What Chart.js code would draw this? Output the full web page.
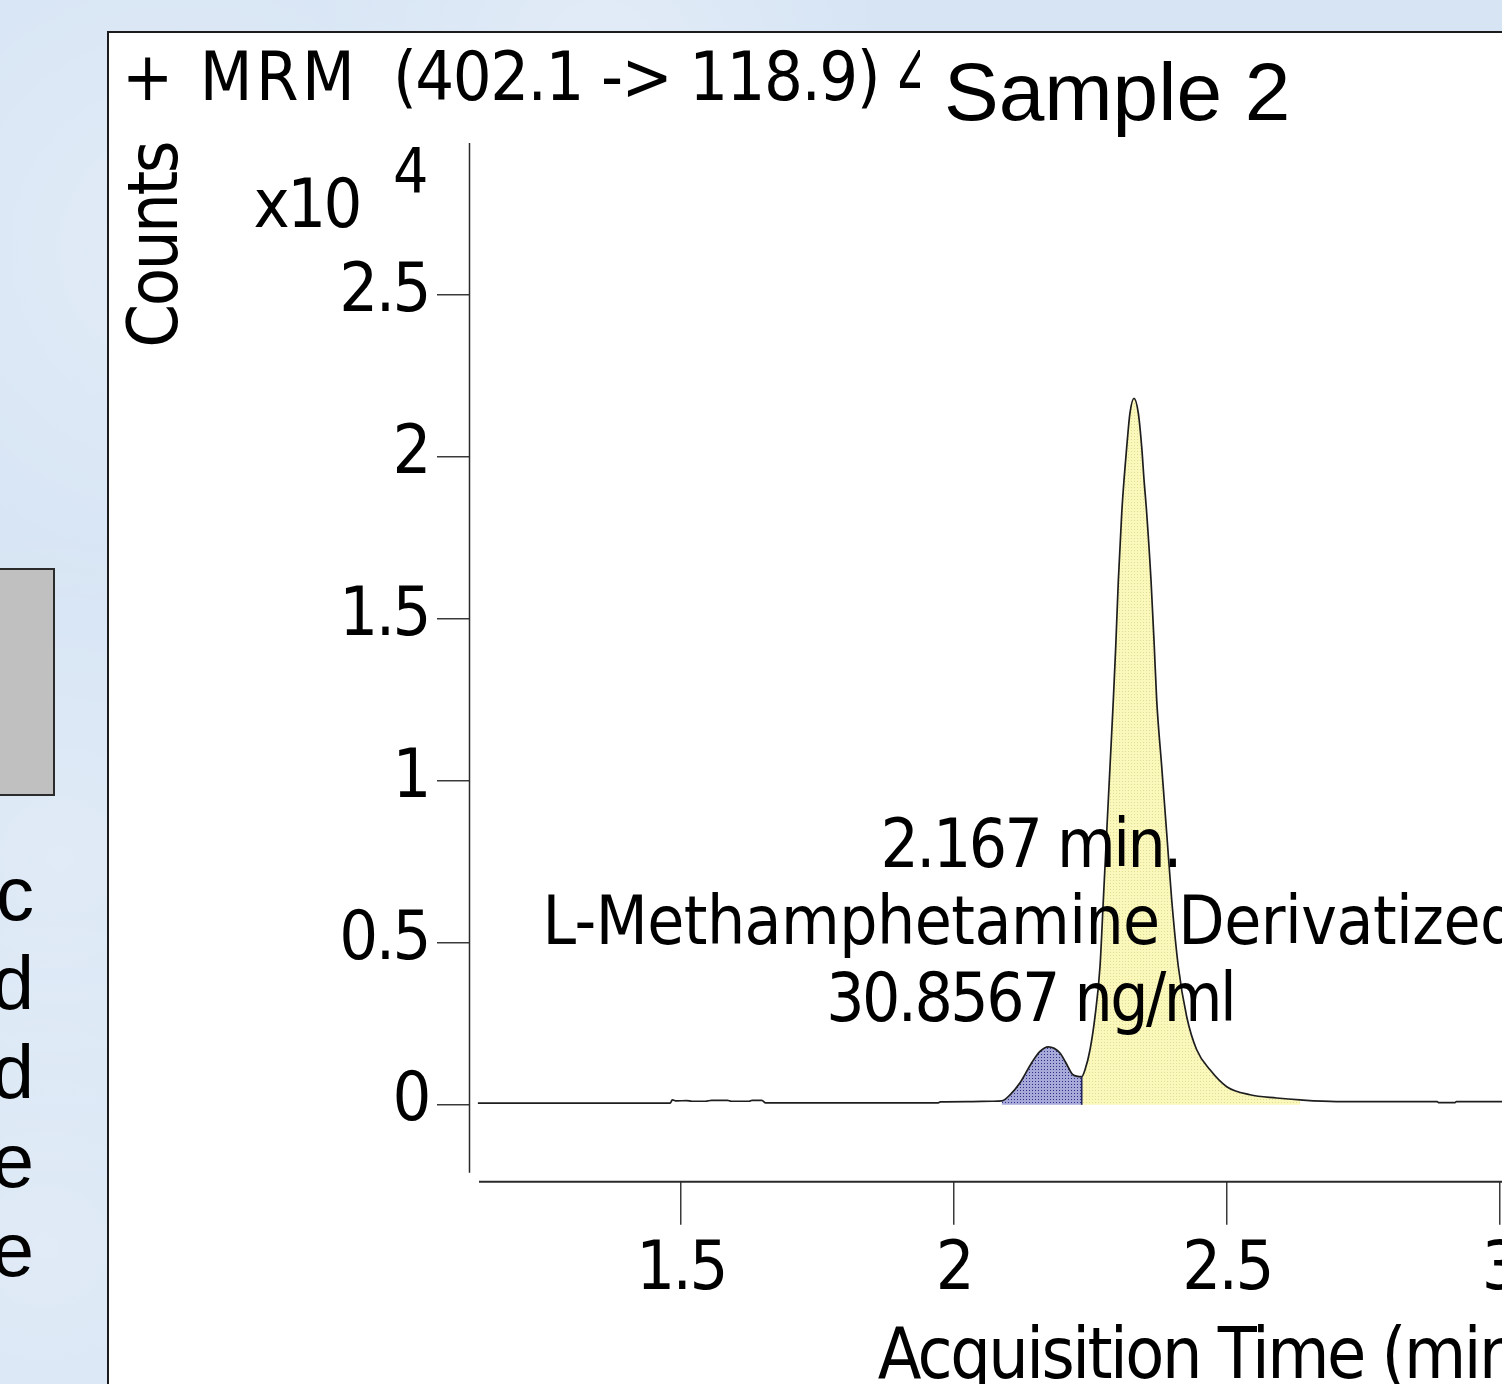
<!DOCTYPE html>
<html>
<head>
<meta charset="utf-8">
<title>Sample 2 - MRM chromatogram</title>
<script src="https://cdn.jsdelivr.net/npm/chart.js"></script>
<style>
  html, body {
    margin: 0;
    padding: 0;
    width: 1502px;
    height: 1384px;
    overflow: hidden;
  }
  body {
    position: relative;
    background-color: #d6e4f4;
    background-image:
      radial-gradient(circle at 12% 18%, rgba(255,255,255,0.30), rgba(255,255,255,0) 22%),
      radial-gradient(circle at 40% 4%, rgba(255,255,255,0.30), rgba(255,255,255,0) 18%),
      radial-gradient(circle at 4% 62%, rgba(255,255,255,0.25), rgba(255,255,255,0) 20%),
      radial-gradient(circle at 3% 90%, rgba(255,255,255,0.25), rgba(255,255,255,0) 18%);
  }
  .panel {
    position: absolute;
    left: 107px;
    top: 31px;
    width: 1500px;
    height: 1400px;
    background: #fff;
    border-left: 2px solid #1c1c1c;
    border-top: 2px solid #1c1c1c;
  }
  .chart-box {
    position: absolute;
    left: 110px;
    top: 33px;
  }
  .sample-label {
    position: absolute;
    left: 920px;
    top: 33px;
    width: 560px;
    height: 100px;
    background: #fff;
  }
  .sample-label span {
    position: absolute;
    left: 24px;
    top: 18px;
    font: 82px/82px "Liberation Sans", Arial, sans-serif;
    color: #000;
    white-space: nowrap;
  }
  .grey-box {
    position: absolute;
    left: -3px;
    top: 568px;
    width: 54px;
    height: 224px;
    background: #c0c0c0;
    border: 2px solid #2b2b2b;
  }
  .side-letters {
    position: absolute;
    left: -25px;
    top: 849px;
    width: 59px;
    text-align: right;
    font: 76px/89px "Liberation Sans", Arial, sans-serif;
    color: #000;
  }
</style>
</head>
<body>
<div class="grey-box"></div>
<div class="side-letters">c<br>d<br>d<br>e<br>e</div>
<div class="panel"></div>
<div class="chart-box"><canvas id="chrom" width="1900" height="1367"></canvas></div>
<div class="sample-label"><span>Sample 2</span></div>

<script>
// Retention time (min) and abundance (x10^4 counts)
const timeMin = [
  1.128, 1.480, 1.484, 1.492, 1.510, 1.520, 1.545, 1.556, 1.585, 1.592,
  1.625, 1.630, 1.648, 1.655, 1.970, 1.975, 2.030, 2.070,
  2.0874, 2.1026, 2.1209, 2.1423, 2.1575, 2.1727, 2.1941, 2.2051, 2.2179, 2.2339,
  2.2399, 2.2491, 2.2582, 2.2674, 2.2735, 2.2796, 2.2857, 2.2918, 2.2962, 2.3010,
  2.3072, 2.3114, 2.3163, 2.3223, 2.3297, 2.3375, 2.3438, 2.3480, 2.3529, 2.3608,
  2.3668, 2.3712, 2.3804, 2.3895, 2.3987, 2.4108, 2.4262, 2.4445, 2.4689, 2.4995,
  2.5421, 2.5910, 2.6337, 2.7000, 2.885, 2.887, 2.918, 2.920, 3.900
];
const counts = [
  0.005, 0.005, 0.015, 0.012, 0.013, 0.011, 0.011, 0.014, 0.014, 0.011,
  0.011, 0.014, 0.014, 0.006, 0.006, 0.009, 0.010, 0.011,
  0.012, 0.031, 0.068, 0.130, 0.165, 0.179, 0.160, 0.129, 0.093, 0.087,
  0.108, 0.170, 0.272, 0.427, 0.633, 0.840, 1.044, 1.250, 1.415, 1.620,
  1.827, 1.930, 2.030, 2.136, 2.181, 2.136, 2.030, 1.930, 1.827, 1.620,
  1.415, 1.250, 1.044, 0.840, 0.633, 0.427, 0.272, 0.170, 0.108, 0.056,
  0.031, 0.021, 0.015, 0.010, 0.010, 0.007, 0.007, 0.010, 0.010
];

// integration windows: [L-peak, D-peak]
const peakStart = [2.0874, 2.2339];
const peakEnd = [2.2339, 2.6337];

const xTicks = [1.5, 2, 2.5, 3, 3.5];
const yTicks = [0, 0.5, 1, 1.5, 2, 2.5];

const titleParts = ['+ MRM', '(402.1 -> 118.9) 4'];
const peakLabel = ['2.167 min.', 'L-Methamphetamine Derivatized', '30.8567 ng/ml'];

const FONT = '"DejaVu Sans Condensed", "DejaVu Sans", sans-serif';

const trace = timeMin.map((t, i) => ({ x: t, y: counts[i] }));
const lPeak = trace.filter(p => p.x >= peakStart[0] && p.x <= peakEnd[0]);
const dPeak = trace.filter(p => p.x >= peakStart[1] && p.x <= peakEnd[1]);

function dotPattern(base, dot) {
  const c = document.createElement('canvas');
  c.width = 3;
  c.height = 3;
  const g = c.getContext('2d');
  g.fillStyle = base;
  g.fillRect(0, 0, 3, 3);
  g.fillStyle = dot;
  g.fillRect(1, 1, 1, 1);
  return g.createPattern(c, 'repeat');
}

const labelSpacing = ['-2.5px', '-0.5px', '-2.5px'];

const decor = {
  id: 'decor',
  beforeDraw(chart) {
    chart.ctx.letterSpacing = '-2.5px';
  },
  afterDatasetsDraw(chart) {
    const { ctx, scales } = chart;
    const xs = scales.x, ys = scales.y;
    ctx.save();
    // split line between the two integrated peaks
    const last = lPeak[lPeak.length - 1];
    ctx.strokeStyle = '#25255e';
    ctx.lineWidth = 1.6;
    ctx.beginPath();
    ctx.moveTo(xs.getPixelForValue(last.x), ys.getPixelForValue(last.y));
    ctx.lineTo(xs.getPixelForValue(last.x), ys.getPixelForValue(0));
    ctx.stroke();

    const cx = xs.getPixelForValue(2.1395);
    const base = ys.getPixelForValue(0);
    ctx.fillStyle = '#000';
    ctx.font = '67px ' + FONT;
    ctx.textAlign = 'center';
    ctx.textBaseline = 'alphabetic';
    peakLabel.forEach((txt, i) => {
      ctx.letterSpacing = labelSpacing[i];
      ctx.fillText(txt, cx, base - 84 - 77 * (peakLabel.length - 1 - i));
    });
    ctx.restore();
  },
  afterDraw(chart) {
    const { ctx, chartArea } = chart;
    const { left, right, top, bottom } = chartArea;
    ctx.save();
    // axis lines, detached at the corner like the original
    ctx.strokeStyle = '#2a2a2a';
    ctx.lineWidth = 1.5;
    ctx.beginPath();
    ctx.moveTo(left + 0.5, top);
    ctx.lineTo(left + 0.5, bottom - 9);
    ctx.stroke();
    ctx.lineWidth = 2;
    ctx.beginPath();
    ctx.moveTo(left + 10, bottom);
    ctx.lineTo(right, bottom);
    ctx.stroke();

    ctx.fillStyle = '#000';
    ctx.textBaseline = 'alphabetic';
    // header
    ctx.font = '68px ' + FONT;
    ctx.textAlign = 'left';
    ctx.letterSpacing = '3.5px';
    ctx.fillText(titleParts[0], 12, 67);
    ctx.letterSpacing = '-1.5px';
    ctx.fillText(titleParts[1], 283, 67);

    // x10^4 multiplier
    ctx.letterSpacing = '-2.5px';
    ctx.textAlign = 'right';
    ctx.fillText('x10', left - 109, top + 84);
    ctx.font = '62px ' + FONT;
    ctx.textAlign = 'left';
    ctx.fillText('4', left - 76, top + 50);
    ctx.restore();
  }
};

const tickGrid = (len) => ({
  display: true,
  drawOnChartArea: false,
  drawTicks: true,
  tickLength: len,
  color: '#3a3a3a',
  lineWidth: 1.5
});

new Chart(document.getElementById('chrom'), {
  type: 'line',
  data: {
    datasets: [
      {
        label: 'MRM trace',
        data: trace,
        borderColor: '#1e1e1e',
        borderWidth: 1.7,
        pointRadius: 0,
        cubicInterpolationMode: 'monotone',
        fill: false
      },
      {
        label: 'L-Methamphetamine',
        data: lPeak,
        borderWidth: 0,
        backgroundColor: dotPattern('#a7a9d8', '#2e3088'),
        pointRadius: 0,
        cubicInterpolationMode: 'monotone',
        fill: 'origin'
      },
      {
        label: 'D-Methamphetamine',
        data: dPeak,
        borderWidth: 0,
        backgroundColor: dotPattern('#fbf8bc', '#e2dc96'),
        pointRadius: 0,
        cubicInterpolationMode: 'monotone',
        fill: 'origin'
      }
    ]
  },
  options: {
    responsive: false,
    animation: false,
    events: [],
    layout: { padding: { left: 0, top: 110, right: 62, bottom: 0 } },
    plugins: {
      legend: { display: false },
      tooltip: { enabled: false },
      title: { display: false }
    },
    scales: {
      x: {
        type: 'linear',
        min: 1.1117,
        max: 3.8205,
        afterBuildTicks: (s) => { s.ticks = xTicks.map(v => ({ value: v })); },
        grid: tickGrid(43),
        border: { display: false },
        ticks: {
          color: '#000',
          font: { family: FONT, size: 68 },
          padding: 5.5,
          maxRotation: 0,
          autoSkip: false,
          callback: (v) => String(v)
        },
        title: {
          display: true,
          text: 'Acquisition Time (min)',
          color: '#000',
          font: { family: FONT, size: 71, lineHeight: 1.149 },
          padding: { top: 1, bottom: 0 }
        }
      },
      y: {
        type: 'linear',
        min: -0.2377,
        max: 2.969,
        afterBuildTicks: (s) => { s.ticks = yTicks.map(v => ({ value: v })); },
        afterFit: (s) => { s.width = 359; },
        grid: tickGrid(32),
        border: { display: false },
        ticks: {
          color: '#000',
          font: { family: FONT, size: 68 },
          padding: 8,
          labelOffset: -2,
          autoSkip: false,
          callback: (v) => String(v)
        },
        title: {
          display: true,
          text: 'Counts',
          align: 'end',
          color: '#000',
          font: { family: FONT, size: 70, lineHeight: 1 },
          padding: { top: 14, bottom: 0 }
        }
      }
    }
  },
  plugins: [decor]
});
</script>
</body>
</html>
